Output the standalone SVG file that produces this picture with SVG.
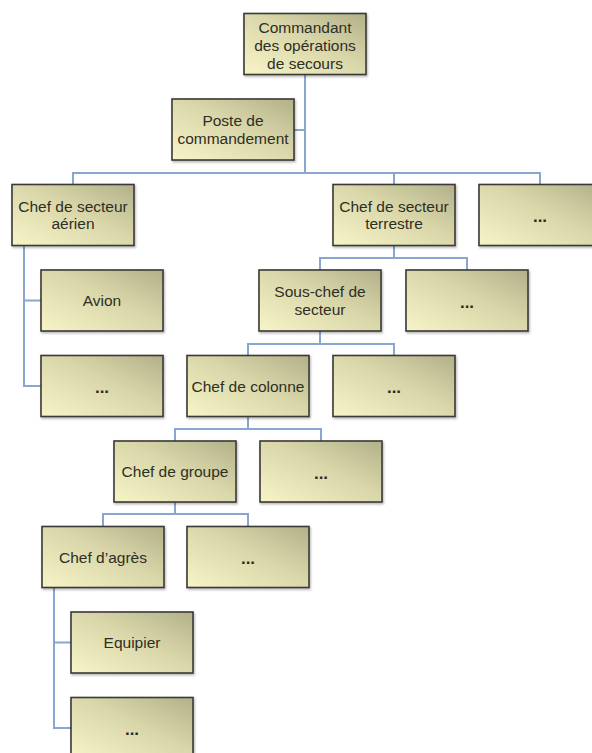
<svg xmlns="http://www.w3.org/2000/svg" width="592" height="753" viewBox="0 0 592 753">
<style>
.box{fill:url(#g);stroke:#3a3a36;stroke-width:1.6;filter:url(#sh)}
.t{font-family:"Liberation Sans",Arial,sans-serif;font-size:15.5px;fill:#2e2e24;text-anchor:middle}
.d{font-family:"Liberation Sans",Arial,sans-serif;font-size:17px;font-weight:bold;fill:#2a2a22;text-anchor:middle}
.c{fill:none;stroke:#88a6d0;stroke-width:2}
</style>
<defs>
<linearGradient id="g" x1="0" y1="1" x2="1" y2="0">
<stop offset="0" stop-color="#f7f5c8"/>
<stop offset="0.55" stop-color="#d9d7a9"/>
<stop offset="1" stop-color="#b3b08a"/>
</linearGradient>
<filter id="sh" x="-10%" y="-10%" width="125%" height="130%">
<feDropShadow dx="1" dy="1.5" stdDeviation="1" flood-color="#000" flood-opacity="0.3"/>
</filter>
</defs>
<rect width="592" height="753" fill="#fff"/>
<g id="connectors">
<path class="c" d="M305 75V173M294 130H305"/>
<path class="c" d="M73 184.5V173H540V184.5M394 173V184.5"/>
<path class="c" d="M24 245.5V386H41M24 300.5H41"/>
<path class="c" d="M394 245.5V258M320 270V258H467V270"/>
<path class="c" d="M320 331V344M248 355.5V344H394V355.5"/>
<path class="c" d="M248 416.5V429M175 441V429H321V441"/>
<path class="c" d="M175 502V514M103 526.5V514H248V526.5"/>
<path class="c" d="M54 587.5V728H71M54 642.5H71"/>
</g>
<g id="n-ops"><rect class="box" x="244" y="13.5" width="122" height="61"/><text class="t" x="305" y="32.5">Commandant</text><text class="t" x="305" y="50.5">des opérations</text><text class="t" x="305" y="68.5">de secours</text></g>
<g id="n-poste"><rect class="box" x="172" y="99" width="122" height="61"/><text class="t" x="233" y="126">Poste de</text><text class="t" x="233" y="143.5">commandement</text></g>
<g id="n-aerien"><rect class="box" x="12" y="184.5" width="122" height="61"/><text class="t" x="73" y="211.5">Chef de secteur</text><text class="t" x="73" y="229">aérien</text></g>
<g id="n-terrestre"><rect class="box" x="333" y="184.5" width="122" height="61"/><text class="t" x="394" y="211.5">Chef de secteur</text><text class="t" x="394" y="229">terrestre</text></g>
<g id="n-dots1"><rect class="box" x="479" y="184.5" width="122" height="61"/><text class="d" x="540" y="222">...</text></g>
<g id="n-avion"><rect class="box" x="41" y="270" width="122" height="61"/><text class="t" x="102" y="306">Avion</text></g>
<g id="n-dots2"><rect class="box" x="41" y="355.5" width="122" height="61"/><text class="d" x="102" y="393">...</text></g>
<g id="n-souschef"><rect class="box" x="259" y="270" width="122" height="61"/><text class="t" x="320" y="297">Sous-chef de</text><text class="t" x="320" y="314.5">secteur</text></g>
<g id="n-dots3"><rect class="box" x="406" y="270" width="122" height="61"/><text class="d" x="467" y="307.5">...</text></g>
<g id="n-colonne"><rect class="box" x="187" y="355.5" width="122" height="61"/><text class="t" x="248" y="391.5">Chef de colonne</text></g>
<g id="n-dots4"><rect class="box" x="333" y="355.5" width="122" height="61"/><text class="d" x="394" y="393">...</text></g>
<g id="n-groupe"><rect class="box" x="114" y="441" width="122" height="61"/><text class="t" x="175" y="477">Chef de groupe</text></g>
<g id="n-dots5"><rect class="box" x="260" y="441" width="122" height="61"/><text class="d" x="321" y="478.5">...</text></g>
<g id="n-agres"><rect class="box" x="42" y="526.5" width="122" height="61"/><text class="t" x="103" y="562.5">Chef d’agrès</text></g>
<g id="n-dots6"><rect class="box" x="187" y="526.5" width="122" height="61"/><text class="d" x="248" y="564">...</text></g>
<g id="n-equipier"><rect class="box" x="71" y="612" width="122" height="61"/><text class="t" x="132" y="648">Equipier</text></g>
<g id="n-dots7"><rect class="box" x="71" y="697.5" width="122" height="61"/><text class="d" x="132" y="735">...</text></g>
</svg>
